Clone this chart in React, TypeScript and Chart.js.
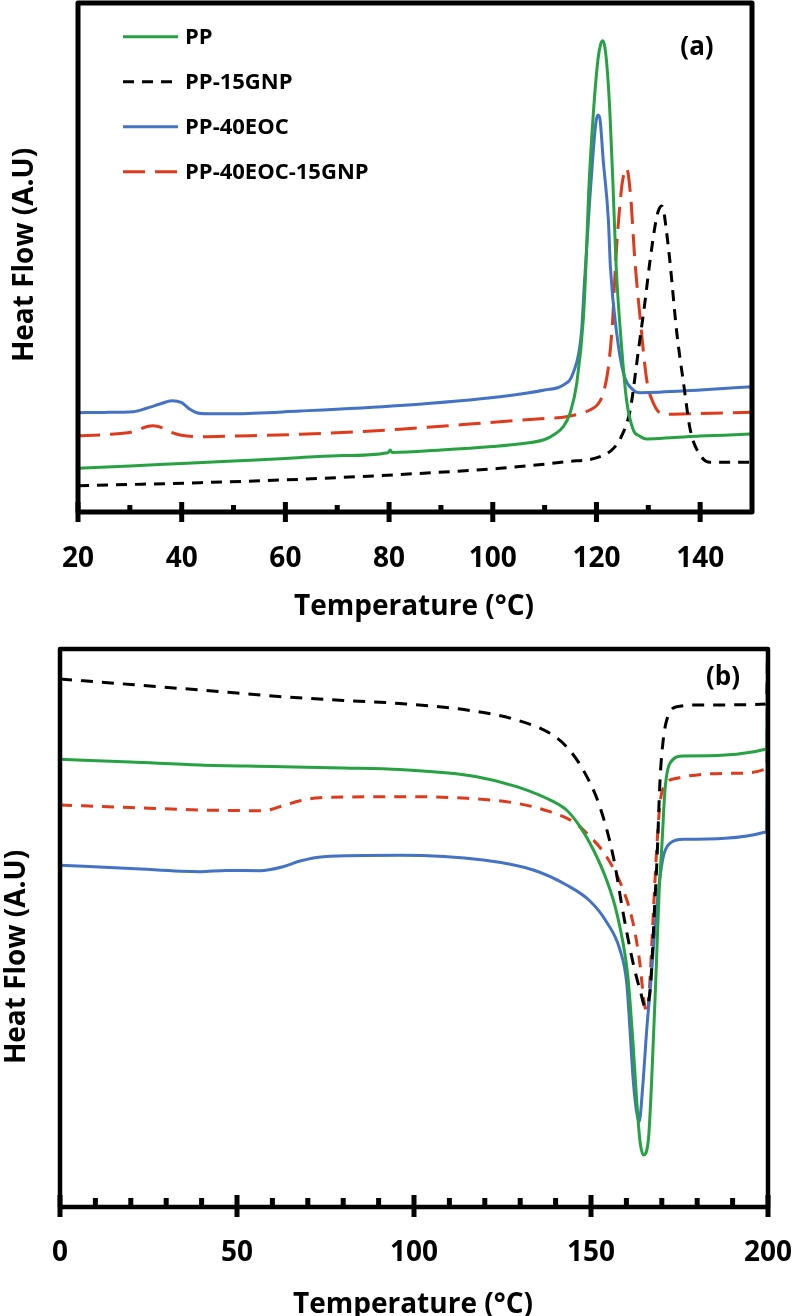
import React, { useEffect, useRef } from "react";
import { Chart, registerables } from "chart.js";

Chart.register(...registerables);

const FONT = '"Open Sans", "Noto Sans", "DejaVu Sans", sans-serif';

// ---------- Panel (a): cooling scans ----------
const A_X_TICKS = [20, 40, 60, 80, 100, 120, 140];
const A_X_MINOR = [30, 50, 70, 90, 110, 130];

const A_PP_T = [20, 30, 40, 50, 60, 70, 79.8, 80.2, 80.6, 90, 100, 105, 110, 112, 113.6, 114.9, 116.2, 117.5, 118.0, 118.5, 119.4, 120.3, 120.8, 121.2, 121.6, 122.1, 122.6, 123.2, 123.8, 124.9, 125.8, 127.1, 128.3, 129.7, 135, 140, 150];
const A_PP_Y = [43.7, 46, 48.5, 51, 53.5, 56.3, 59.3, 62, 59.6, 62, 65.5, 68, 72.5, 78, 85.3, 98.7, 128.7, 195.3, 250, 320, 398.7, 453, 467.7, 471.3, 465.4, 441, 398.7, 325.3, 245.3, 162, 112, 82, 76, 73, 74.5, 76, 78];

const A_GNP_T = [20, 30, 43.5, 62.8, 82.1, 101.4, 114.2, 120.7, 123.3, 124.8, 126.5, 128.1, 129.4, 130.3, 131.5, 132, 132.6, 133, 133.4, 134.1, 135.5, 136.8, 138.1, 140, 141.9, 145, 150];
const A_GNP_Y = [26.3, 27.5, 29.3, 32.7, 37.5, 43.7, 50.3, 55.3, 63.7, 75.3, 102, 162, 212, 250, 292, 302, 306, 300, 285, 254, 179, 128.7, 82, 57, 49.7, 49.7, 49.7];

const A_EOC_T = [20, 25, 30.7, 33.2, 35.8, 38.1, 40, 41.6, 42.9, 44.8, 50, 62.8, 82.1, 101.4, 110, 113.6, 115.5, 117.1, 117.65, 118.15, 118.7, 119.4, 119.9, 120.3, 120.7, 121.3, 122.3, 122.7, 123.9, 125.2, 127.1, 128.4, 140, 150];
const A_EOC_Y = [99.3, 99.6, 100.3, 103.7, 108, 111.3, 109.3, 102.7, 99.3, 98.3, 98.3, 101, 106.5, 115.3, 122, 127, 139, 179, 227, 267, 312, 362, 390, 397, 392, 352, 292, 244, 179, 139, 122, 119.3, 122, 125.3];

const A_EOCGNP_T = [20, 25, 30.7, 33.2, 34.5, 36.5, 37.7, 39.7, 41, 43.5, 50, 62.8, 82.1, 101.4, 110, 114.2, 118.7, 120.3, 121.3, 122.3, 123.1, 123.7, 124.4, 125, 125.8, 126.6, 127.4, 128.4, 129.7, 131, 132.9, 140, 150];
const A_EOCGNP_Y = [76.3, 77.3, 80.3, 85.3, 86.3, 83.7, 80.3, 77, 76, 75.3, 76, 77.7, 82.8, 90.3, 93.5, 95.3, 102, 108, 118.7, 145, 190, 250, 300, 330, 343.7, 315.3, 252, 195.3, 132, 108.7, 97.7, 98.5, 99.7];

// ---------- Panel (b): heating scans ----------
const B_X_TICKS = [0, 50, 100, 150, 200];
const B_X_MINOR = [10, 20, 30, 40, 60, 70, 80, 90, 110, 120, 130, 140, 160, 170, 180, 190];

const B_PP_T = [0, 20, 39.5, 60, 80, 96, 117.7, 129, 139.4, 143.1, 146.9, 150.7, 154.4, 157.3, 160.1, 161, 162, 162.9, 163.8, 164.8, 166.2, 167.1, 168.3, 169.3, 170, 170.9, 172.3, 176.1, 199.6, 200];
const B_PP_Y = [447.7, 445, 442, 440.5, 439, 437.4, 430.3, 420.3, 405.3, 397, 380.3, 357, 327, 293.7, 240, 207, 157, 107, 67, 52, 67, 123.7, 227, 320, 360, 417, 443.7, 451, 458, 600];

const B_GNP_T = [0, 20, 39.5, 60, 80, 96, 114.9, 129, 138.4, 143.1, 147.8, 152.5, 156.3, 159.1, 161.9, 164, 165.3, 166.7, 168.1, 168.6, 169.5, 170.4, 171.4, 174.2, 180.8, 199.6, 200];
const B_GNP_Y = [528, 522.5, 517, 511, 506.5, 503.5, 497, 487, 473.7, 460.3, 437, 400.3, 350.3, 293.7, 243.7, 215, 200.3, 217, 310, 343.7, 427, 467, 487, 500.3, 502, 503, 600];

const B_EOC_T = [0, 20, 39.5, 47, 56.5, 63, 67.8, 74.4, 96, 119.6, 133.7, 143.1, 149.7, 154.4, 158.2, 160.1, 161, 161.9, 162.8, 163.6, 164.6, 165.8, 166.9, 168.2, 169, 170.4, 172.3, 176.1, 199.6, 200];
const B_EOC_Y = [341.7, 338.5, 335.3, 336.5, 336.3, 340.3, 346, 350.3, 351.7, 347, 337, 322, 306, 285, 257, 223.7, 178, 128, 97, 85.3, 120, 180, 225, 285, 315, 350, 363.7, 367.7, 375.3, 600];

const B_EOCGNP_T = [0, 20, 39.5, 57.4, 63, 67.8, 73.4, 96, 114.9, 129, 138.4, 145, 148.8, 154.4, 159.1, 161.9, 163.8, 165, 165.9, 166.7, 167.6, 168.6, 169.5, 170.9, 174.2, 190.2, 199.6, 200];
const B_EOCGNP_Y = [402, 399.5, 397, 396.3, 401.3, 406.3, 409.3, 410.3, 408.7, 403.7, 395.3, 385.3, 373.7, 350.3, 317, 283.7, 243.7, 205, 193.7, 230, 293.7, 360.3, 403.7, 422, 428.7, 433.7, 438.7, 600];

const SERIES_NAMES = ["PP", "PP-15GNP", "PP-40EOC", "PP-40EOC-15GNP"];
const GREEN = "#27A243";
const BLACK = "#000000";
const BLUE = "#4472C4";
const RED = "#DE3A1B";

function pts(t: number[], y: number[]) {
  return t.map((x, i) => ({ x, y: y[i] }));
}

type Decor = {
  frame: number;
  tickW: number;
  major: number[];
  minor: number[];
  majorIn: number;
  majorOut: number;
  minorIn: number;
  xTitle: string;
  xTitlePos: [number, number];
  yTitle: string;
  yTitlePos: [number, number];
  titleSize: number;
  tag: string;
  tagPos: [number, number];
  tagSize: number;
  legend?: { x0: number; x1: number; tx: number; y0: number; gap: number; size: number };
};

function decorPlugin(d: Decor) {
  return {
    id: "decor",
    afterDraw(chart: any) {
      const { ctx, chartArea } = chart;
      const { left, right, top, bottom } = chartArea;
      const xs = chart.scales.x;
      ctx.save();
      ctx.strokeStyle = "#000";
      ctx.lineWidth = d.frame;
      ctx.lineJoin = "round";
      ctx.setLineDash([]);
      ctx.strokeRect(left, top, right - left, bottom - top);
      ctx.lineCap = "butt";
      ctx.lineWidth = d.tickW;
      ctx.beginPath();
      for (const v of d.major) {
        const p = xs.getPixelForValue(v);
        ctx.moveTo(p, bottom - d.majorIn);
        ctx.lineTo(p, bottom + d.majorOut);
      }
      for (const v of d.minor) {
        const p = xs.getPixelForValue(v);
        ctx.moveTo(p, bottom);
        ctx.lineTo(p, bottom - d.minorIn);
      }
      ctx.stroke();

      ctx.fillStyle = "#000";
      ctx.font = `bold ${d.titleSize}px ${FONT}`;
      ctx.textAlign = "center";
      ctx.textBaseline = "alphabetic";
      ctx.fillText(d.xTitle, d.xTitlePos[0], d.xTitlePos[1]);
      ctx.save();
      ctx.translate(d.yTitlePos[0], d.yTitlePos[1]);
      ctx.rotate(-Math.PI / 2);
      ctx.fillText(d.yTitle, 0, 0);
      ctx.restore();

      ctx.textBaseline = "middle";
      ctx.font = `bold ${d.tagSize}px ${FONT}`;
      ctx.fillText(d.tag, d.tagPos[0], d.tagPos[1]);

      if (d.legend) {
        const L = d.legend;
        ctx.font = `bold ${L.size}px ${FONT}`;
        ctx.textAlign = "left";
        chart.data.datasets.forEach((ds: any, i: number) => {
          const y = L.y0 + i * L.gap;
          ctx.save();
          ctx.strokeStyle = ds.borderColor;
          ctx.lineWidth = ds.borderWidth;
          ctx.setLineDash(ds.borderDash || []);
          ctx.beginPath();
          ctx.moveTo(L.x0, y);
          ctx.lineTo(L.x1, y);
          ctx.stroke();
          ctx.restore();
          ctx.fillText(ds.label, L.tx, y + 1);
        });
      }
      ctx.restore();
    },
  };
}

type PanelSpec = {
  width: number;
  height: number;
  padding: { left: number; right: number; top: number; bottom: number };
  xAxisHeight: number;
  xmin: number;
  xmax: number;
  ymax: number;
  ticks: number[];
  tickPad: number;
  datasets: any[];
  decor: Decor;
};

function buildConfig(p: PanelSpec): any {
  return {
    type: "line",
    data: { datasets: p.datasets },
    options: {
      responsive: false,
      animation: false,
      events: [],
      layout: { padding: p.padding },
      plugins: { legend: { display: false }, tooltip: { enabled: false } },
      elements: {
        point: { radius: 0 },
        line: { cubicInterpolationMode: "monotone", borderCapStyle: "butt" },
      },
      scales: {
        x: {
          type: "linear",
          min: p.xmin,
          max: p.xmax,
          grid: { display: false, drawTicks: false },
          border: { display: false },
          afterBuildTicks: (s: any) => {
            s.ticks = p.ticks.map((v) => ({ value: v }));
          },
          afterFit: (s: any) => {
            s.height = p.xAxisHeight;
            s.paddingLeft = 0;
            s.paddingRight = 0;
          },
          ticks: {
            autoSkip: false,
            maxRotation: 0,
            minRotation: 0,
            padding: p.tickPad,
            color: "#000",
            font: { family: FONT, size: 28, weight: "bold" },
          },
        },
        y: { type: "linear", display: false, min: 0, max: p.ymax },
      },
    },
    plugins: [decorPlugin(p.decor)],
  };
}

function line(label: string, t: number[], y: number[], color: string, dash: number[]) {
  return {
    label,
    data: pts(t, y),
    borderColor: color,
    backgroundColor: color,
    borderWidth: 3,
    borderDash: dash,
    fill: false,
  };
}

const specA: PanelSpec = {
  width: 795,
  height: 630,
  padding: { left: 78, right: 43, top: 3, bottom: 0 },
  xAxisHeight: 118,
  xmin: 20,
  xmax: 150,
  ymax: 509,
  ticks: A_X_TICKS,
  tickPad: 30,
  datasets: [
    line(SERIES_NAMES[0], A_PP_T, A_PP_Y, GREEN, []),
    line(SERIES_NAMES[1], A_GNP_T, A_GNP_Y, BLACK, [11, 8]),
    line(SERIES_NAMES[2], A_EOC_T, A_EOC_Y, BLUE, []),
    line(SERIES_NAMES[3], A_EOCGNP_T, A_EOCGNP_Y, RED, [22, 10]),
  ],
  decor: {
    frame: 5,
    tickW: 5,
    major: A_X_TICKS,
    minor: A_X_MINOR,
    majorIn: 10,
    majorOut: 10,
    minorIn: 7,
    xTitle: "Temperature (°C)",
    xTitlePos: [414, 615],
    yTitle: "Heat Flow (A.U)",
    yTitlePos: [33, 255],
    titleSize: 28,
    tag: "(a)",
    tagPos: [697, 48],
    tagSize: 26,
    legend: { x0: 123, x1: 178, tx: 185, y0: 36.7, gap: 45, size: 22 },
  },
};

const specB: PanelSpec = {
  width: 795,
  height: 686,
  padding: { left: 60, right: 27, top: 19, bottom: 0 },
  xAxisHeight: 109,
  xmin: 0,
  xmax: 200,
  ymax: 558,
  ticks: B_X_TICKS,
  tickPad: 29,
  datasets: [
    line(SERIES_NAMES[0], B_PP_T, B_PP_Y, GREEN, []),
    line(SERIES_NAMES[1], B_GNP_T, B_GNP_Y, BLACK, [12, 9]),
    line(SERIES_NAMES[2], B_EOC_T, B_EOC_Y, BLUE, []),
    line(SERIES_NAMES[3], B_EOCGNP_T, B_EOCGNP_Y, RED, [12, 9]),
  ],
  decor: {
    frame: 4.5,
    tickW: 5,
    major: B_X_TICKS,
    minor: B_X_MINOR,
    majorIn: 12,
    majorOut: 10,
    minorIn: 9,
    xTitle: "Temperature (°C)",
    xTitlePos: [413, 683],
    yTitle: "Heat Flow (A.U)",
    yTitlePos: [25, 327],
    titleSize: 28,
    tag: "(b)",
    tagPos: [723, 47.5],
    tagSize: 26,
  },
};

function Panel({ spec, top }: { spec: PanelSpec; top: number }) {
  const ref = useRef<HTMLCanvasElement | null>(null);
  useEffect(() => {
    if (!ref.current) return;
    const chart = new Chart(ref.current, buildConfig(spec));
    return () => chart.destroy();
  }, [spec]);
  return (
    <canvas
      ref={ref}
      width={spec.width}
      height={spec.height}
      style={{ position: "absolute", left: 0, top, width: spec.width, height: spec.height }}
    />
  );
}

export default function App() {
  return (
    <div style={{ position: "absolute", left: 0, top: 0, width: 795, height: 1316, background: "#fff", overflow: "hidden" }}>
      <Panel spec={specA} top={0} />
      <Panel spec={specB} top={630} />
    </div>
  );
}
